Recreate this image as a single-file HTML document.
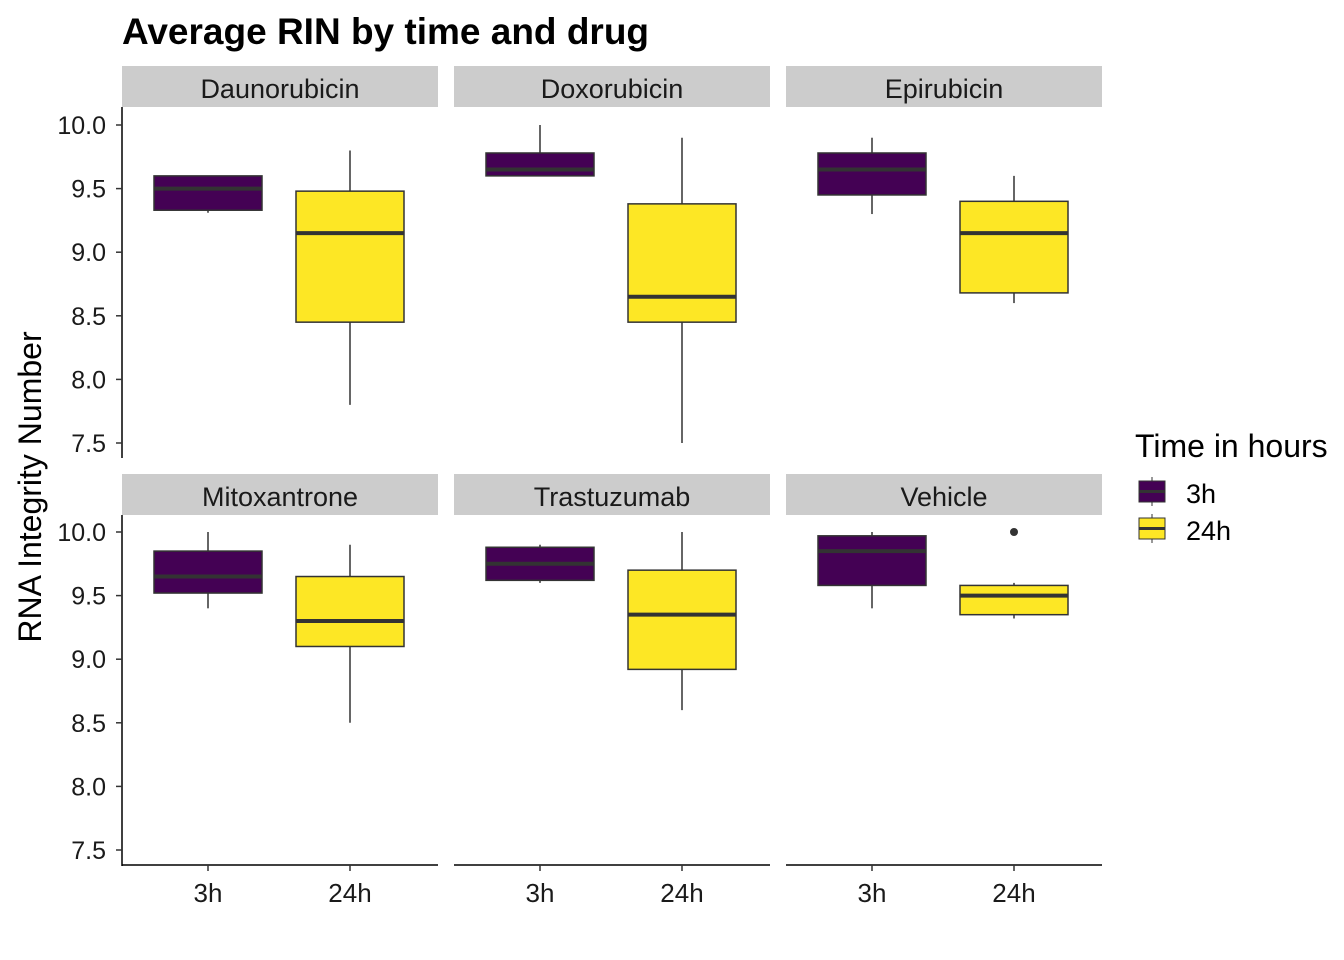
<!DOCTYPE html>
<html><head><meta charset="utf-8"><style>body{margin:0;background:#fff}svg{display:block;font-family:"Liberation Sans",Arial,sans-serif}</style></head>
<body>
<svg id="c" width="1344" height="960" xmlns="http://www.w3.org/2000/svg">
<text x="122" y="44" font-size="37" font-weight="bold" fill="#000">Average RIN by time and drug</text>
<text transform="translate(41,487) rotate(-90)" text-anchor="middle" font-size="32" fill="#000">RNA Integrity Number</text>
<g id="legend">
<text x="1135" y="457" font-size="32" fill="#000">Time in hours</text>
<g><line x1="1152" y1="477" x2="1152" y2="506" stroke="#333"/><rect x="1139" y="481" width="26" height="21" fill="#440154" stroke="#333"/><line x1="1139" y1="491.5" x2="1165" y2="491.5" stroke="#333" stroke-width="3"/><text x="1186" y="503" font-size="27">3h</text></g>
<g><line x1="1152" y1="514" x2="1152" y2="543" stroke="#333"/><rect x="1139" y="518" width="26" height="21" fill="#FDE725" stroke="#333"/><line x1="1139" y1="528.5" x2="1165" y2="528.5" stroke="#333" stroke-width="3"/><text x="1186" y="540" font-size="27">24h</text></g>
</g>
</svg>
<script>
const panels=["Daunorubicin","Doxorubicin","Epirubicin","Mitoxantrone","Trastuzumab","Vehicle"];
const groups=["3h","24h"];
const yTicks=[7.5,8.0,8.5,9.0,9.5,10.0];
const yTickLabels=["7.5","8.0","8.5","9.0","9.5","10.0"];
// per panel, per group: [low, q1, median, q3, high]
const stats3h=[[9.31,9.33,9.5,9.6,9.6],[9.6,9.6,9.65,9.78,10.0],[9.3,9.45,9.65,9.78,9.9],[9.4,9.52,9.65,9.85,10.0],[9.6,9.62,9.75,9.88,9.9],[9.4,9.58,9.85,9.97,10.0]];
const stats24h=[[7.8,8.45,9.15,9.48,9.8],[7.5,8.45,8.65,9.38,9.9],[8.6,8.68,9.15,9.4,9.6],[8.5,9.1,9.3,9.65,9.9],[8.6,8.92,9.35,9.7,10.0],[9.32,9.35,9.5,9.58,9.6]];
const outliers=[[],[],[],[],[],[[1,10.0]]];
const colors=["#440154","#FDE725"];
const svg=document.getElementById('c');
const NS="http://www.w3.org/2000/svg";
function mk(t,a,p){const e=document.createElementNS(NS,t);for(const k in a)e.setAttribute(k,a[k]);(p||svg).appendChild(e);return e;}
const px0=[122,454,786],pw=316,rowTop=[107,515],ph=351;
function yS(v,r){return (r===0?125:532)+(10-v)*127.2;}
function xS(i,c){return px0[c]+(i===0?86:228);}
panels.forEach((name,p)=>{
  const r=Math.floor(p/3),c=p%3;
  const g=mk('g',{});
  
  
  const st=mk('rect',{x:px0[c],y:rowTop[r]-41,width:pw,height:41,fill:'#cccccc'},g);
  
  
  const tx=mk('text',{x:px0[c]+pw/2,y:rowTop[r]-9,'text-anchor':'middle','font-size':27,fill:'#1a1a1a'},g);
  tx.textContent=name;
  
  
  if(c===0){
    const ax=mk('line',{x1:122,y1:rowTop[r],x2:122,y2:rowTop[r]+ph,stroke:'#000','stroke-width':1.5},g);
    
    
    yTicks.forEach((v,i)=>{
      const y=yS(v,r);
      mk('line',{x1:116,y1:y,x2:122,y2:y,stroke:'#333','stroke-width':1.5},g);
      const t=mk('text',{x:106,y:y+9,'text-anchor':'end','font-size':25,fill:'#1a1a1a'},g);
      t.textContent=yTickLabels[i];
      
      
    });
  }
  if(r===1){
    const ax=mk('line',{x1:px0[c],y1:865,x2:px0[c]+pw,y2:865,stroke:'#000','stroke-width':1.5},g);
    
    
    groups.forEach((gr,i)=>{
      const x=xS(i,c);
      mk('line',{x1:x,y1:865,x2:x,y2:871,stroke:'#333','stroke-width':1.5},g);
      const t=mk('text',{x:x,y:902,'text-anchor':'middle','font-size':26,fill:'#1a1a1a'},g);
      t.textContent=gr;
      
      
    });
  }
  [stats3h[p],stats24h[p]].forEach((s,i)=>{
    const x=xS(i,c),bw=108;
    const b=mk('g',{},g);
    
    
    mk('line',{x1:x,y1:yS(s[0],r),x2:x,y2:yS(s[4],r),stroke:'#333','stroke-width':1.5},b);
    mk('rect',{x:x-bw/2,y:yS(s[3],r),width:bw,height:yS(s[1],r)-yS(s[3],r),fill:colors[i],stroke:'#333','stroke-width':1.5},b);
    mk('line',{x1:x-bw/2,y1:yS(s[2],r),x2:x+bw/2,y2:yS(s[2],r),stroke:'#333','stroke-width':4},b);
  });
  outliers[p].forEach(o=>{
    const d=mk('circle',{cx:xS(o[0],c),cy:yS(o[1],r),r:4,fill:'#333'},g);
    
    
  });
});
</script>
</body></html>
